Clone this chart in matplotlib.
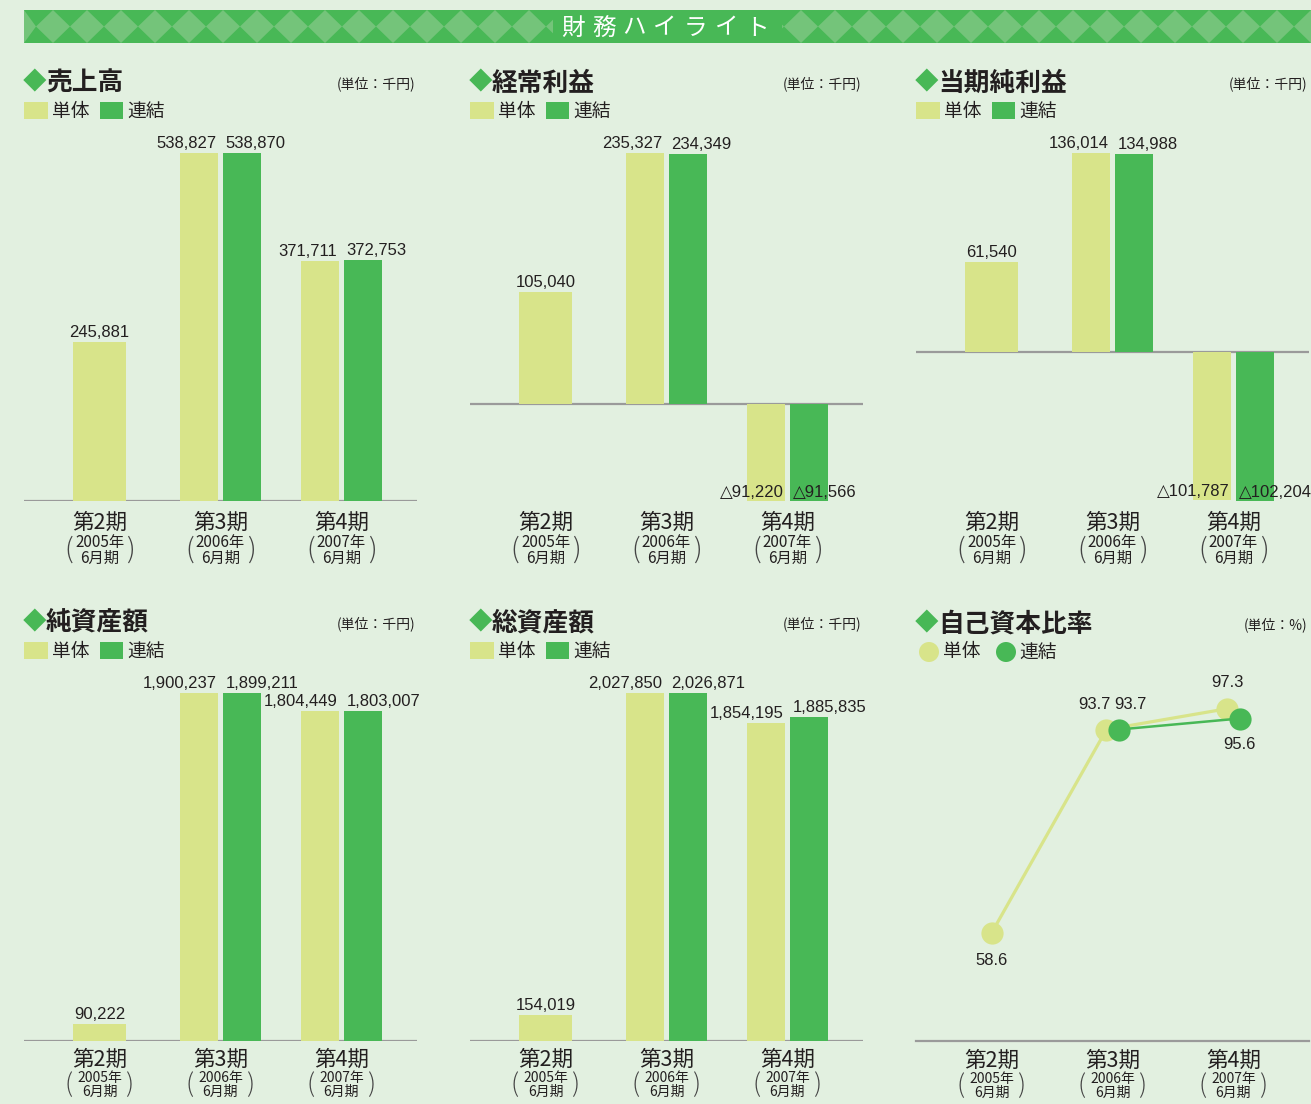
import matplotlib
matplotlib.use('Agg')
import matplotlib.pyplot as plt
import matplotlib.transforms as mtransforms
from matplotlib import font_manager
from matplotlib.patches import Rectangle, Polygon, Circle
import numpy as np

# 財務ハイライト データ（単位：千円 / %）
periods = ['第2期', '第3期', '第4期']
fy_labels = ['2005年', '2006年', '2007年']
term_label = '6月期'

sales_tan = [245881, 538827, 371711]
sales_ren = [np.nan, 538870, 372753]
ordinary_tan = [105040, 235327, -91220]
ordinary_ren = [np.nan, 234349, -91566]
net_tan = [61540, 136014, -101787]
net_ren = [np.nan, 134988, -102204]
netassets_tan = [90222, 1900237, 1804449]
netassets_ren = [np.nan, 1899211, 1803007]
totalassets_tan = [154019, 2027850, 1854195]
totalassets_ren = [np.nan, 2026871, 1885835]
equity_tan = [58.6, 93.7, 97.3]
equity_ren = [np.nan, 93.7, 95.6]

W, H = 1311, 1104
BG = '#e2f0e0'
C_TAN = '#d8e48a'
C_REN = '#48b856'
C_LIGHT = '#74c47a'
TXT = '#231f20'
JP = 'Noto Sans CJK JP'

names = {f.name for f in font_manager.fontManager.ttflist}
NUM = 'Liberation Sans Narrow' if 'Liberation Sans Narrow' in names else 'Liberation Sans'
NUM_SIZE = 15 if NUM == 'Liberation Sans Narrow' else 12
NUM_FAM = [NUM, 'DejaVu Sans', JP]

plt.rcParams['font.family'] = [JP, 'DejaVu Sans']

# 横軸ラベルの配置（上段 / 下段）
TOP_TICKS = dict(shift=0, d1=20, d2=35, dp=27, sub=11, paren=20)
BOT_TICKS = dict(shift=-3, d1=18, d2=32, dp=25, sub=10, paren=18.5)


def fx(px):
    return px / W


def fy(py):
    return 1 - py / H


fig = plt.figure(figsize=(W / 100, H / 100), dpi=100)
fig.patch.set_facecolor(BG)

# ヘッダー帯
fig.patches.append(Rectangle((fx(24), fy(43)), fx(1311) - fx(24), (43 - 10) / H,
                             transform=fig.transFigure, color=C_REN, lw=0))
for k in range(40):
    cx = 19 + 34 * k
    pts = [(cx - 17, 26.5), (cx, 10), (cx + 17, 26.5), (cx, 43)]
    pts = [(fx(max(24, min(1311, p[0]))), fy(p[1])) for p in pts]
    fig.patches.append(Polygon(pts, closed=True, transform=fig.transFigure,
                               color=C_LIGHT, lw=0))
fig.patches.append(Rectangle((fx(553), fy(43)), (782 - 553) / W, (43 - 10) / H,
                             transform=fig.transFigure, color=C_REN, lw=0))
for k, ch in enumerate('財務ハイライト'):
    fig.text(fx(573 + 30.7 * k), fy(28), ch, color='white', fontsize=17,
             ha='center', va='center')

XLIM = (-0.624, 2.624)


def decorate(x0, row_y, title, unit, ax, ticks, marker_legend=False):
    # タイトル
    fig.text(fx(x0 - 1), fy(row_y + 3), '◆', color=C_REN, fontsize=17, va='center')
    fig.text(fx(x0 + 22), fy(row_y + 3), title, color=TXT, fontsize=18.5,
             fontweight='bold', va='center')
    fig.text(fx(x0 + 391), fy(row_y + 4), unit, color=TXT, fontsize=10,
             ha='right', va='center')
    # 凡例
    ly = row_y + 31
    if marker_legend:
        for cx, c in [(x0 + 13, C_TAN), (x0 + 90, C_REN)]:
            fig.patches.append(Circle((fx(cx), fy(ly)), 10 / W, transform=fig.transFigure,
                                      color=c, lw=0))
        # 楕円補正
        for p in fig.patches[-2:]:
            p.set_transform(mtransforms.Affine2D().scale(1, W / H) +
                            mtransforms.Affine2D().translate(0, fy(ly) - fy(ly) * W / H) +
                            fig.transFigure)
        fig.text(fx(x0 + 27), fy(ly), '単体', color=TXT, fontsize=13.5, va='center')
        fig.text(fx(x0 + 103), fy(ly), '連結', color=TXT, fontsize=13.5, va='center')
    else:
        fig.patches.append(Rectangle((fx(x0), fy(ly + 8)), 24 / W, 17 / H,
                                     transform=fig.transFigure, color=C_TAN, lw=0))
        fig.patches.append(Rectangle((fx(x0 + 76), fy(ly + 8)), 23 / W, 17 / H,
                                     transform=fig.transFigure, color=C_REN, lw=0))
        fig.text(fx(x0 + 28), fy(ly), '単体', color=TXT, fontsize=13.5, va='center')
        fig.text(fx(x0 + 103), fy(ly), '連結', color=TXT, fontsize=13.5, va='center')
    # 横軸ラベル
    bt = mtransforms.blended_transform_factory(ax.transData, fig.transFigure)
    base = row_y + 443 + ticks['shift']
    for i, p in enumerate(periods):
        ax.text(i, fy(base), p, transform=bt, ha='center', va='center',
                fontsize=15.5, color=TXT, clip_on=False)
        ax.text(i, fy(base + ticks['d1']), fy_labels[i], transform=bt, ha='center',
                va='center', fontsize=ticks['sub'], color=TXT, clip_on=False)
        ax.text(i, fy(base + ticks['d2']), term_label, transform=bt, ha='center',
                va='center', fontsize=ticks['sub'], color=TXT, clip_on=False)
        for dx, s in [(-0.256, '('), (0.256, ')')]:
            ax.text(i + dx, fy(base + ticks['dp']), s, transform=bt, ha='center',
                    va='center', fontsize=ticks['paren'], color='#444444',
                    fontweight='light', clip_on=False)


def fmt(v):
    return ('△' if v < 0 else '') + f'{abs(int(v)):,}'


def bar_panel(x0, top, bot, maxpx, title, unit, tan, ren, ticks):
    ax = fig.add_axes([fx(x0), fy(bot), 393 / W, (bot - top) / H])
    ax.axis('off')
    vals = np.array(tan + ren, dtype=float)
    vmin = min(0, np.nanmin(vals))
    vmax = np.nanmax(vals)
    s = (bot - maxpx) / (vmax - vmin)
    ax.set_ylim(vmin, vmin + (bot - top) / s)
    ax.set_xlim(*XLIM)
    ax.axhline(0, color='#9a9a9a', lw=1.6, zorder=1)
    for i in range(3):
        t, r = tan[i], ren[i]
        if np.isnan(r):
            ax.bar(i, t, 0.44, color=C_TAN, lw=0, zorder=2)
            ax.annotate(fmt(t), (i, t), xytext=(0, 5), textcoords='offset pixels',
                        ha='center', va='baseline', fontsize=NUM_SIZE, family=NUM_FAM,
                        color=TXT, annotation_clip=False)
            continue
        w = 0.314
        xt, xr = i - 0.174, i + 0.174
        ax.bar([xt], [t], w, color=C_TAN, lw=0, zorder=2)
        ax.bar([xr], [r], w, color=C_REN, lw=0, zorder=2)
        for xv, v, ha, dx in [(xt + w / 2, t, 'right', -2), (xr - w / 2, r, 'left', 3)]:
            dy = 5 if v >= 0 else 4
            ax.annotate(fmt(v), (xv, v), xytext=(dx, dy), textcoords='offset pixels',
                        ha=ha, va='baseline', fontsize=NUM_SIZE, family=NUM_FAM,
                        color=TXT, annotation_clip=False, zorder=3)
    decorate(x0, top - 45, title, unit, ax, ticks)
    return ax


bar_panel(24, 125, 501, 153, '売上高', '(単位：千円)', sales_tan, sales_ren, TOP_TICKS)
bar_panel(470, 125, 501, 153, '経常利益', '(単位：千円)', ordinary_tan, ordinary_ren,
          TOP_TICKS)
bar_panel(916, 125, 501, 153, '当期純利益', '(単位：千円)', net_tan, net_ren, TOP_TICKS)
bar_panel(24, 665, 1041, 693, '純資産額', '(単位：千円)', netassets_tan, netassets_ren,
          BOT_TICKS)
bar_panel(470, 665, 1041, 693, '総資産額', '(単位：千円)', totalassets_tan, totalassets_ren,
          BOT_TICKS)

# 自己資本比率（折れ線）
top, bot = 665, 1041
ax = fig.add_axes([fx(916), fy(bot), 393 / W, (bot - top) / H])
ax.set_facecolor('none')
for sp in ['top', 'right', 'left']:
    ax.spines[sp].set_visible(False)
ax.spines['bottom'].set_color('#9a9a9a')
ax.spines['bottom'].set_linewidth(1.6)
ax.set_xticks([])
ax.set_yticks([])
ax.set_xlim(*XLIM)
ax.set_ylim(40, 40 + (bot - top) / 5.8)

tan_x = [i if np.isnan(equity_ren[i]) else i - 0.05 for i in range(3)]
ren_idx = [i for i in range(3) if not np.isnan(equity_ren[i])]
ren_x = [i + 0.05 for i in ren_idx]
ren_y = [equity_ren[i] for i in ren_idx]
ax.plot(tan_x, equity_tan, color=C_TAN, lw=2.3, marker='o', ms=16, mew=0,
        clip_on=False, zorder=2)
ax.plot(ren_x, ren_y, color=C_REN, lw=1.8, marker='o', ms=16, mew=0,
        clip_on=False, zorder=3)
tan_off = [(0, -27), (-12, 25), (0, 26)]
ren_off = [(12, 25), (0, -26)]
for x, y, o in zip(tan_x, equity_tan, tan_off):
    ax.annotate(f'{y:.1f}', (x, y), xytext=o, textcoords='offset pixels', ha='center',
                va='center', fontsize=NUM_SIZE, family=NUM_FAM, color=TXT)
for x, y, o in zip(ren_x, ren_y, ren_off):
    ax.annotate(f'{y:.1f}', (x, y), xytext=o, textcoords='offset pixels', ha='center',
                va='center', fontsize=NUM_SIZE, family=NUM_FAM, color=TXT)
decorate(916, 621, '自己資本比率', '(単位：%)', ax, BOT_TICKS, marker_legend=True)

fig.savefig('out.png', dpi=100, facecolor=BG)
